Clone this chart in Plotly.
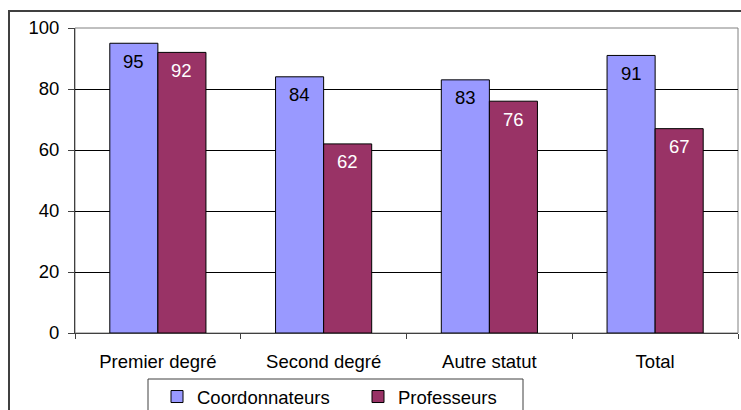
import plotly.graph_objects as go

# Data
categories = ["Premier degré", "Second degré", "Autre statut", "Total"]
coordonnateurs = [95, 84, 83, 91]
professeurs = [92, 62, 76, 67]
y_ticks = [0, 20, 40, 60, 80, 100]

FONT = "Arial, Liberation Sans, sans-serif"
FS = 18.5

W, H = 741, 410
ML, MR, MT, MB = 75, 3, 28, 77
PW = W - ML - MR
PH = H - MT - MB


def px_x(p):
    return (p - ML) / PW


def px_y(p):
    return (H - MB - p) / PH


fig = go.Figure()
fig.add_trace(go.Bar(
    name="Coordonnateurs", x=categories, y=coordonnateurs,
    marker=dict(color="#9999FF", line=dict(color="#000000", width=1)),
))
fig.add_trace(go.Bar(
    name="Professeurs", x=categories, y=professeurs,
    marker=dict(color="#993366", line=dict(color="#000000", width=1)),
))

# value labels just under the top of each bar
annotations = []
for cat, v in zip(categories, coordonnateurs):
    annotations.append(dict(x=cat, y=v, xref="x", yref="y", text=str(v),
                            showarrow=False, xshift=-24, yshift=-18,
                            font=dict(family=FONT, size=FS, color="#000000")))
for cat, v in zip(categories, professeurs):
    annotations.append(dict(x=cat, y=v, xref="x", yref="y", text=str(v),
                            showarrow=False, xshift=24, yshift=-18,
                            font=dict(family=FONT, size=FS, color="#FFFFFF")))

shapes = [
    # outer chart frame
    dict(type="rect", xref="paper", yref="paper",
         x0=px_x(9), x1=px_x(760), y0=px_y(430), y1=px_y(11),
         line=dict(color="#404040", width=2), fillcolor="rgba(0,0,0,0)",
         layer="below"),
    # plot area border
    dict(type="rect", xref="paper", yref="paper", x0=0, x1=1, y0=0, y1=1,
         line=dict(color="#808080", width=1), fillcolor="rgba(0,0,0,0)",
         layer="below"),
    # legend box
    dict(type="rect", xref="paper", yref="paper",
         x0=px_x(148), x1=px_x(523), y0=px_y(425), y1=px_y(379),
         line=dict(color="#404040", width=1), fillcolor="#FFFFFF",
         layer="above"),
]

fig.update_layout(
    width=W, height=H,
    margin=dict(l=ML, r=MR, t=MT, b=MB, pad=0, autoexpand=False),
    paper_bgcolor="#FFFFFF", plot_bgcolor="#FFFFFF",
    font=dict(family=FONT, size=FS, color="#000000"),
    barmode="group", bargap=0.42, bargroupgap=0,
    showlegend=True,
    legend=dict(orientation="h", x=px_x(157), y=px_y(378),
                xanchor="left", yanchor="top",
                bgcolor="rgba(0,0,0,0)", borderwidth=0,
                font=dict(family=FONT, size=FS, color="#000000"),
                entrywidth=156, entrywidthmode="pixels"),
    annotations=annotations,
    shapes=shapes,
)

fig.update_xaxes(
    type="category", showline=True, linecolor="#404040", linewidth=1,
    ticks="outside", tickson="boundaries", ticklen=5, tickcolor="#404040",
    ticklabelstandoff=12, automargin=False,
    showgrid=False, tickfont=dict(family=FONT, size=FS, color="#000000"),
)
fig.update_yaxes(
    range=[0, 100], tickvals=y_ticks, ticktext=[str(t) for t in y_ticks],
    showline=True, linecolor="#404040", linewidth=1,
    ticks="outside", ticklen=6, tickcolor="#404040",
    ticklabelstandoff=5, automargin=False,
    showgrid=True, gridcolor="#000000", gridwidth=1,
    zeroline=False, tickfont=dict(family=FONT, size=FS, color="#000000"),
)

fig.write_html("out.html")
